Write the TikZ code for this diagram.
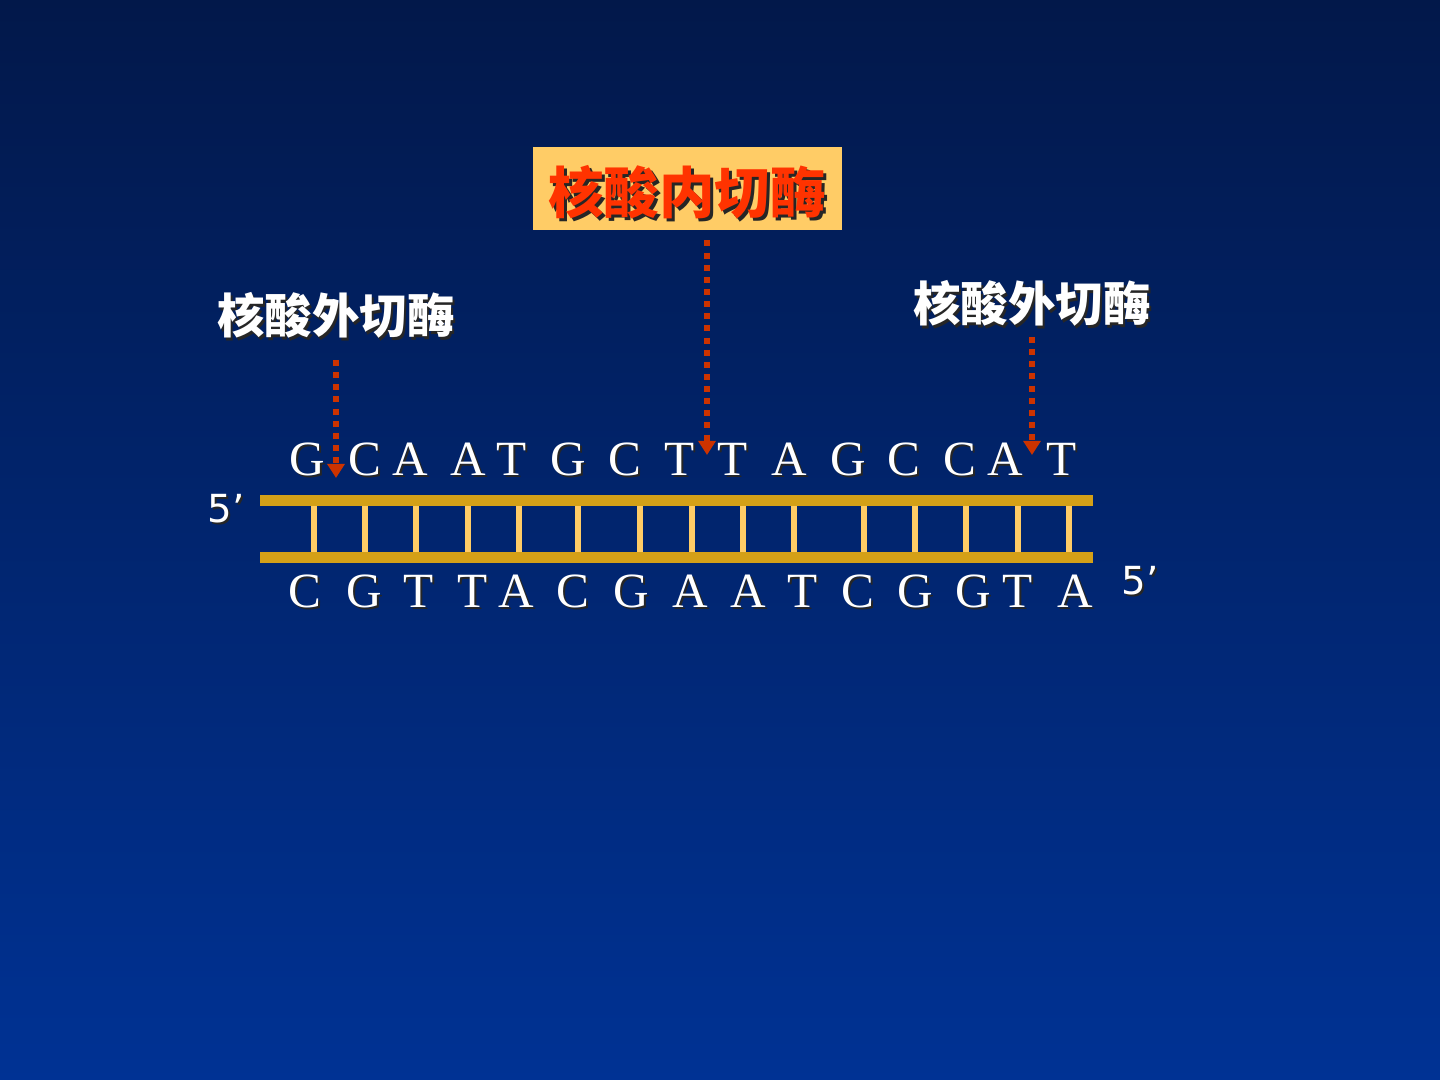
\documentclass[tikz,border=0pt]{standalone}
\usepackage{fontspec}
\setmainfont{Liberation Serif}
\newfontfamily\cjk{Noto Sans CJK SC}
\newfontfamily\numfont{DejaVu Sans}
\usetikzlibrary{arrows.meta}
\definecolor{fondoarriba}{RGB}{2,24,74}
\definecolor{fondoabajo}{RGB}{0,50,148}
\definecolor{riel}{RGB}{212,160,23}
\definecolor{peldano}{RGB}{255,204,102}
\definecolor{corte}{RGB}{204,51,0}
\definecolor{rojoendo}{RGB}{255,51,0}
\tikzset{
  base/.style={text=white, font=\fontsize{14}{17}\selectfont, anchor=base, inner sep=0pt},
  sombra/.style={text=black!85},
  extremo/.style={text=white, font=\numfont\fontsize{11}{13}\selectfont, anchor=base west, inner sep=0pt},
  enzima/.style={text=white, font=\cjk\bfseries\fontsize{13.5}{16}\selectfont, inner sep=0pt},
  endocaja/.style={fill=peldano, minimum width=3.09cm, minimum height=0.83cm, inner sep=0pt},
  endotexto/.style={text=rojoendo, font=\cjk\bfseries\fontsize{15.8}{18}\selectfont, inner sep=0pt},
  punteada/.style={corte, line width=1.7pt, dash pattern=on 1.7pt off 1.75pt,
    -{Triangle[width=4.8pt,length=4pt]}},
}
\begin{document}
\begin{tikzpicture}[x=0.01cm, y=-0.01cm]
    % Fondo
    \useasboundingbox (0,0) rectangle (1440,1080);
    \shade[top color=fondoarriba, bottom color=fondoabajo] (0,0) rectangle (1440,1080);

    % Escalera de ADN
    \fill[riel] (260,495) rectangle (1093,506);
    \fill[riel] (260,552) rectangle (1093,563);
    \foreach \x in {314,365,416,468,519,578,640,692,743,794,864,915,966,1018,1069}
        \fill[peldano] (\x-3,506) rectangle (\x+3,552);

    % Cadena superior
    \foreach \x/\l [count=\i] in {307/G,365/C,410/A,468/A,512/T,568/G,625/C,680/T,
        733/T,789/A,848/G,904/C,960/C,1005/A,1062/T} {
        \node[base, sombra] at (\x+2,478) {\l};
        \node[base] (arriba-\i) at (\x,476) {\l};
    }

    % Cadena inferior
    \foreach \x/\l [count=\i] in {305/C,364/G,419/T,473/T,516/A,573/C,631/G,690/A,
        748/A,803/T,858/C,915/G,973/G,1018/T,1075/A} {
        \node[base, sombra] at (\x+2,610) {\l};
        \node[base] (abajo-\i) at (\x,608) {\l};
    }

    % Extremos 5'
    \node[extremo, sombra] at (209,525) {5’};
    \node[extremo] (cinco-izq) at (207,523) {5’};
    \node[extremo, sombra] at (1123,597) {5’};
    \node[extremo] (cinco-der) at (1121,595) {5’};

    % Endonucleasa
    \node[endocaja] (endo) at (687.5,188.5) {};
    \node[endotexto, sombra] at (690,195) {核酸内切酶};
    \node[endotexto] (endotxt) at (687,192) {核酸内切酶};

    % Exonucleasas
    \node[enzima, sombra] at (338,318) {核酸外切酶};
    \node[enzima] (exoL) at (336,315) {核酸外切酶};
    \node[enzima, sombra] at (1034,306) {核酸外切酶};
    \node[enzima] (exoR) at (1032,303) {核酸外切酶};

    % Puntos de corte
    \coordinate (cutL) at (336,478);
    \coordinate (cutM) at (707,455);
    \coordinate (cutR) at (1032,455);
    \draw[punteada] (exoL) ++(0,45) -- (cutL);
    \draw[punteada] (endo) ++(19.5,52) -- (cutM);
    \draw[punteada] (exoR) ++(0,34) -- (cutR);
\end{tikzpicture}
\end{document}
